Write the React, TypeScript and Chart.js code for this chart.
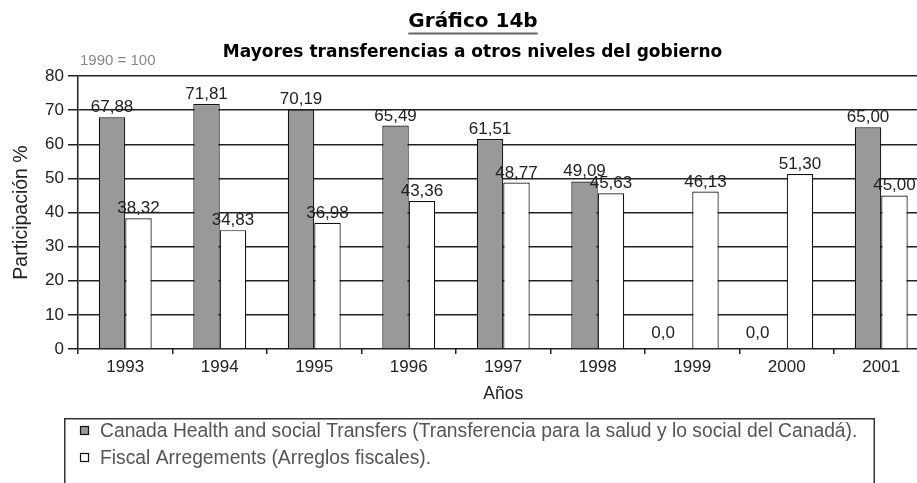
import React, { useEffect, useRef } from "react";
import { Chart, registerables } from "chart.js";

Chart.register(...registerables);

const years = ["1993", "1994", "1995", "1996", "1997", "1998", "1999", "2000", "2001"];
const chstValues = [67.88, 71.81, 70.19, 65.49, 61.51, 49.09, 0, 0, 65.0];
const fiscalValues = [38.32, 34.83, 36.98, 43.36, 48.77, 45.63, 46.13, 51.3, 45.0];
const seriesNames = [
  "Canada Health and social Transfers (Transferencia para la salud y lo social del Canadá).",
  "Fiscal Arregements (Arreglos fiscales).",
];
const seriesColors = ["#999999", "#ffffff"];
const chartTitle = "Gráfico 14b";
const chartSubtitle = "Mayores transferencias a otros niveles del gobierno";
const baseNote = "1990 = 100";
const yAxisTitle = "Participación %";
const xAxisTitle = "Años";
const yMin = 0;
const yMax = 80;
const yStep = 10;

const SANS = "'Liberation Sans', Arial, Helvetica, sans-serif";
const WIDE = "'DejaVu Sans', Verdana, sans-serif";
const INK = "#222222";

function fmt(v: number): string {
  if (v === 0) return "0,0";
  return v.toFixed(2).replace(".", ",");
}

const overlayPlugin = {
  id: "overlay",
  afterDatasetsDraw(chart: any) {
    const ctx = chart.ctx;
    ctx.save();
    ctx.font = `17px ${SANS}`;
    ctx.fillStyle = INK;
    ctx.textAlign = "center";
    ctx.textBaseline = "alphabetic";
    chart.data.datasets.forEach((ds: any, di: number) => {
      const meta = chart.getDatasetMeta(di);
      meta.data.forEach((bar: any, i: number) => {
        const v = ds.data[i] as number;
        const zero = v === 0;
        ctx.fillText(fmt(v), bar.x - (zero ? 16 : 0), bar.y - (zero ? 11 : 5));
      });
    });
    ctx.restore();
  },
  afterDraw(chart: any) {
    const ctx = chart.ctx;
    ctx.save();
    // Title
    ctx.textBaseline = "alphabetic";
    ctx.textAlign = "center";
    ctx.fillStyle = "#000";
    ctx.font = `bold 20px ${WIDE}`;
    ctx.fillText(chartTitle, 473, 27);
    const tw = ctx.measureText(chartTitle).width;
    ctx.strokeStyle = "#666";
    ctx.lineWidth = 2;
    ctx.beginPath();
    ctx.moveTo(473 - tw / 2, 33.5);
    ctx.lineTo(473 + tw / 2, 33.5);
    ctx.stroke();
    // Subtitle
    ctx.font = `bold 17px ${WIDE}`;
    ctx.fillText(chartSubtitle, 472.5, 57);
    // Base note
    ctx.textAlign = "left";
    ctx.fillStyle = "#888";
    ctx.font = `15px ${SANS}`;
    ctx.fillText(baseNote, 80, 65);
    // Legend box
    ctx.strokeStyle = "#333";
    ctx.lineWidth = 1.5;
    ctx.strokeRect(64.75, 418.75, 809.5, 120);
    ctx.font = `19.3px ${SANS}`;
    const baselines = [437, 464];
    chart.data.datasets.forEach((ds: any, di: number) => {
      const by = baselines[di];
      ctx.fillStyle = ds.backgroundColor;
      ctx.fillRect(80.5, by - 10.5, 8, 8);
      ctx.strokeStyle = "#111";
      ctx.lineWidth = 1.2;
      ctx.strokeRect(80.5, by - 10.5, 8, 8);
      ctx.fillStyle = "#555";
      ctx.fillText(ds.label, 100, by);
    });
    ctx.restore();
  },
};

export default function App() {
  const canvasRef = useRef<HTMLCanvasElement | null>(null);

  useEffect(() => {
    const canvas = canvasRef.current;
    if (!canvas) return;
    const chart = new Chart(canvas, {
      type: "bar",
      data: {
        labels: years,
        datasets: [
          {
            label: seriesNames[0],
            data: chstValues,
            backgroundColor: seriesColors[0],
            borderColor: "#111",
            borderWidth: 1.2,
            categoryPercentage: 0.56,
            barPercentage: 1,
          },
          {
            label: seriesNames[1],
            data: fiscalValues,
            backgroundColor: seriesColors[1],
            borderColor: "#111",
            borderWidth: 1.2,
            categoryPercentage: 0.56,
            barPercentage: 1,
          },
        ],
      },
      options: {
        animation: false,
        responsive: false,
        devicePixelRatio: 1,
        layout: { padding: { top: 76, right: 11.5, bottom: 74, left: 0 } },
        plugins: {
          legend: { display: false },
          tooltip: { enabled: false },
        },
        scales: {
          x: {
            grid: {
              display: true,
              drawOnChartArea: false,
              drawTicks: true,
              tickLength: 5,
              color: INK,
              lineWidth: 1.5,
              offset: true,
            },
            border: { display: false },
            ticks: {
              font: { size: 17, family: SANS },
              color: INK,
              padding: 3,
              maxRotation: 0,
              autoSkip: false,
            },
            title: {
              display: true,
              text: xAxisTitle,
              font: { size: 17.5, family: SANS },
              color: INK,
              padding: { top: 0, bottom: 4 },
            },
            afterFit: (s: any) => {
              s.height = 60;
            },
          },
          y: {
            min: yMin,
            max: yMax,
            ticks: {
              stepSize: yStep,
              font: { size: 17, family: SANS },
              color: INK,
              padding: 4,
            },
            grid: {
              color: INK,
              lineWidth: 1.5,
              tickLength: 10,
              drawTicks: true,
            },
            border: { display: true, color: INK, width: 1.5 },
            title: {
              display: true,
              text: yAxisTitle,
              font: { size: 19.5, family: SANS },
              color: INK,
              padding: { top: 10, bottom: 0 },
            },
            afterFit: (s: any) => {
              s.width = 78;
            },
          },
        },
      } as any,
      plugins: [overlayPlugin],
    });
    return () => chart.destroy();
  }, []);

  return (
    <div
      style={{
        position: "fixed",
        left: 0,
        top: 0,
        width: 917,
        height: 483,
        overflow: "hidden",
        background: "#fff",
      }}
    >
      <canvas ref={canvasRef} width={940} height={483} style={{ display: "block" }} />
    </div>
  );
}
